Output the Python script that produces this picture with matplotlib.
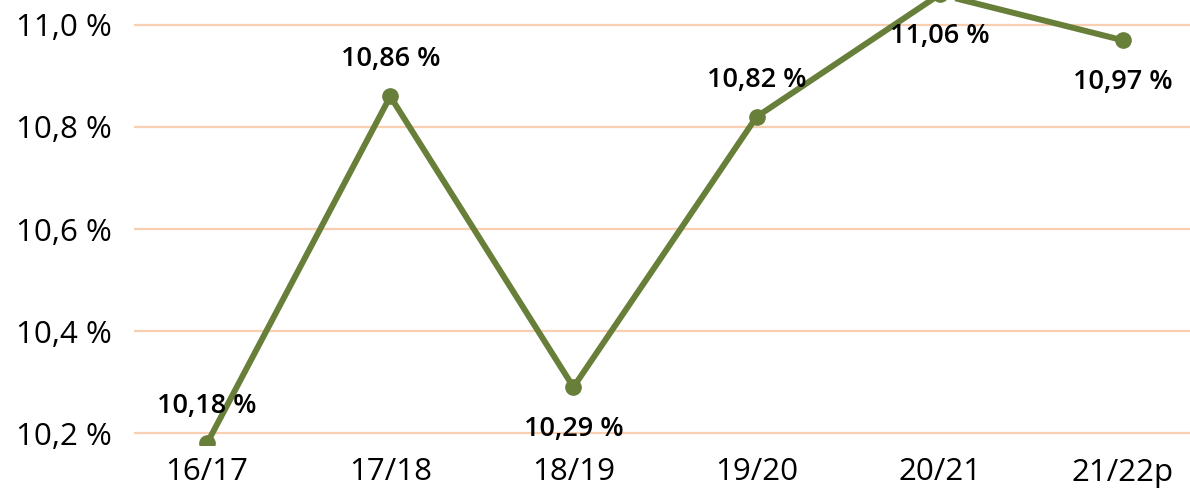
import matplotlib
matplotlib.use("Agg")
import matplotlib.pyplot as plt

# data
years = ['16/17', '17/18', '18/19', '19/20', '20/21', '21/22p']
share = [10.18, 10.86, 10.29, 10.82, 11.06, 10.97]
label_pos = ['above', 'above', 'below', 'above', 'below', 'below']
y_ticks = [10.2, 10.4, 10.6, 10.8, 11.0]

line_col = '#687F3A'
grid_col = '#F8CFB0'

plt.rcParams['font.family'] = ['Open Sans', 'DejaVu Sans']

fig = plt.figure(figsize=(11.9, 4.92), dpi=100)
ax = fig.add_axes([134 / 1190, (492 - 445) / 492, 1056 / 1190, 445 / 492])

x = list(range(len(years)))
ax.plot(x, share, color=line_col, lw=4.3, marker='o', ms=11, zorder=3)

for xi, v, pos in zip(x, share, label_pos):
    txt = f'{v:.2f} %'.replace('.', ',')
    dy = 37 if pos == 'above' else -42
    ax.annotate(txt, (xi, v), xytext=(0, dy * 0.72), textcoords='offset points',
                ha='center', va='center', fontsize=19.5, fontweight='semibold',
                color='black', zorder=4, annotation_clip=False)

ax.set_xlim(-0.399, 5.366)
ax.set_ylim(10.1765, 11.049)
ax.set_xticks(x)
ax.set_xticklabels(years)
ax.set_yticks(y_ticks)
ax.set_yticklabels([f'{t:.1f} %'.replace('.', ',') for t in y_ticks])
ax.tick_params(axis='both', length=0, labelsize=22.5, colors='black')
ax.tick_params(axis='y', pad=16)
ax.tick_params(axis='x', pad=9)
ax.grid(axis='y', color=grid_col, lw=1.6)
ax.set_axisbelow(True)
for s in ax.spines.values():
    s.set_visible(False)

fig.savefig('out.png', dpi=100)
